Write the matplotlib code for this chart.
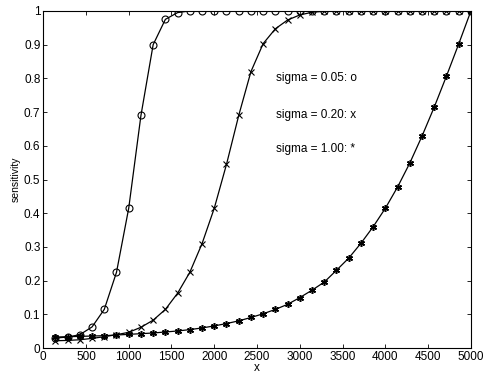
import matplotlib
matplotlib.use("Agg")
import matplotlib.pyplot as plt
import numpy as np

# x positions: 35 samples up to 5000
x = np.linspace(5000 / 35, 5000, 35)

sens_005 = [0.030, 0.033, 0.040, 0.063, 0.115, 0.225, 0.415, 0.690, 0.900, 0.975,
            0.995, 1.0, 1.0, 1.0, 1.0, 1.0, 1.0, 1.0, 1.0, 1.0,
            1.0, 1.0, 1.0, 1.0, 1.0, 1.0, 1.0, 1.0, 1.0, 1.0,
            1.0, 1.0, 1.0, 1.0, 1.0]
sens_020 = [0.022, 0.023, 0.025, 0.029, 0.034, 0.040, 0.047, 0.062, 0.083, 0.115,
            0.163, 0.225, 0.310, 0.415, 0.545, 0.690, 0.820, 0.903, 0.947, 0.973,
            0.988, 0.996, 0.999, 1.0, 1.0, 1.0, 1.0, 1.0, 1.0, 1.0,
            1.0, 1.0, 1.0, 1.0, 1.0]
sens_100 = [0.033, 0.034, 0.035, 0.036, 0.037, 0.039, 0.041, 0.043, 0.045, 0.048,
            0.051, 0.055, 0.060, 0.066, 0.073, 0.081, 0.091, 0.102, 0.115, 0.130,
            0.150, 0.172, 0.196, 0.231, 0.267, 0.311, 0.360, 0.415, 0.478, 0.549,
            0.629, 0.715, 0.807, 0.902, 1.0]

legend_lines = ["sigma = 0.05: o", "sigma = 0.20: x", "sigma = 1.00: *"]

plt.rcParams['font.family'] = ['Liberation Sans', 'DejaVu Sans']
plt.rcParams['font.size'] = 8.5

fig = plt.figure(figsize=(4.85, 3.76), dpi=100)
ax = fig.add_axes([0.089, 0.074, 0.882, 0.897])

style = dict(color='black', lw=0.9, markersize=5, markerfacecolor='none', markeredgewidth=0.8)
ax.plot(x, sens_005, marker='o', **style)
ax.plot(x, sens_020, marker='x', **style)
style['markeredgewidth'] = 1.1
ax.plot(x, sens_100, marker=(6, 2, 0), **style)

ax.text(2720, 0.80, legend_lines[0], va='center')
ax.text(2720, 0.69, legend_lines[1], va='center')
ax.text(2720, 0.59, legend_lines[2], va='center')

ax.set_xlim(0, 5000)
ax.set_ylim(0, 1)
ax.set_xticks(np.arange(0, 5001, 500))
ax.set_yticks(np.arange(0, 1.01, 0.1))
ax.set_yticklabels(['0', '0.1', '0.2', '0.3', '0.4', '0.5', '0.6', '0.7', '0.8', '0.9', '1'])
ax.tick_params(direction='in', top=True, right=True, length=3, width=0.6, pad=2)
for s in ax.spines.values():
    s.set_linewidth(0.8)
ax.set_xlabel('x', labelpad=-1)
ax.set_ylabel('sensitivity', fontsize=7.5, labelpad=2)

fig.savefig('out.png', dpi=100)
